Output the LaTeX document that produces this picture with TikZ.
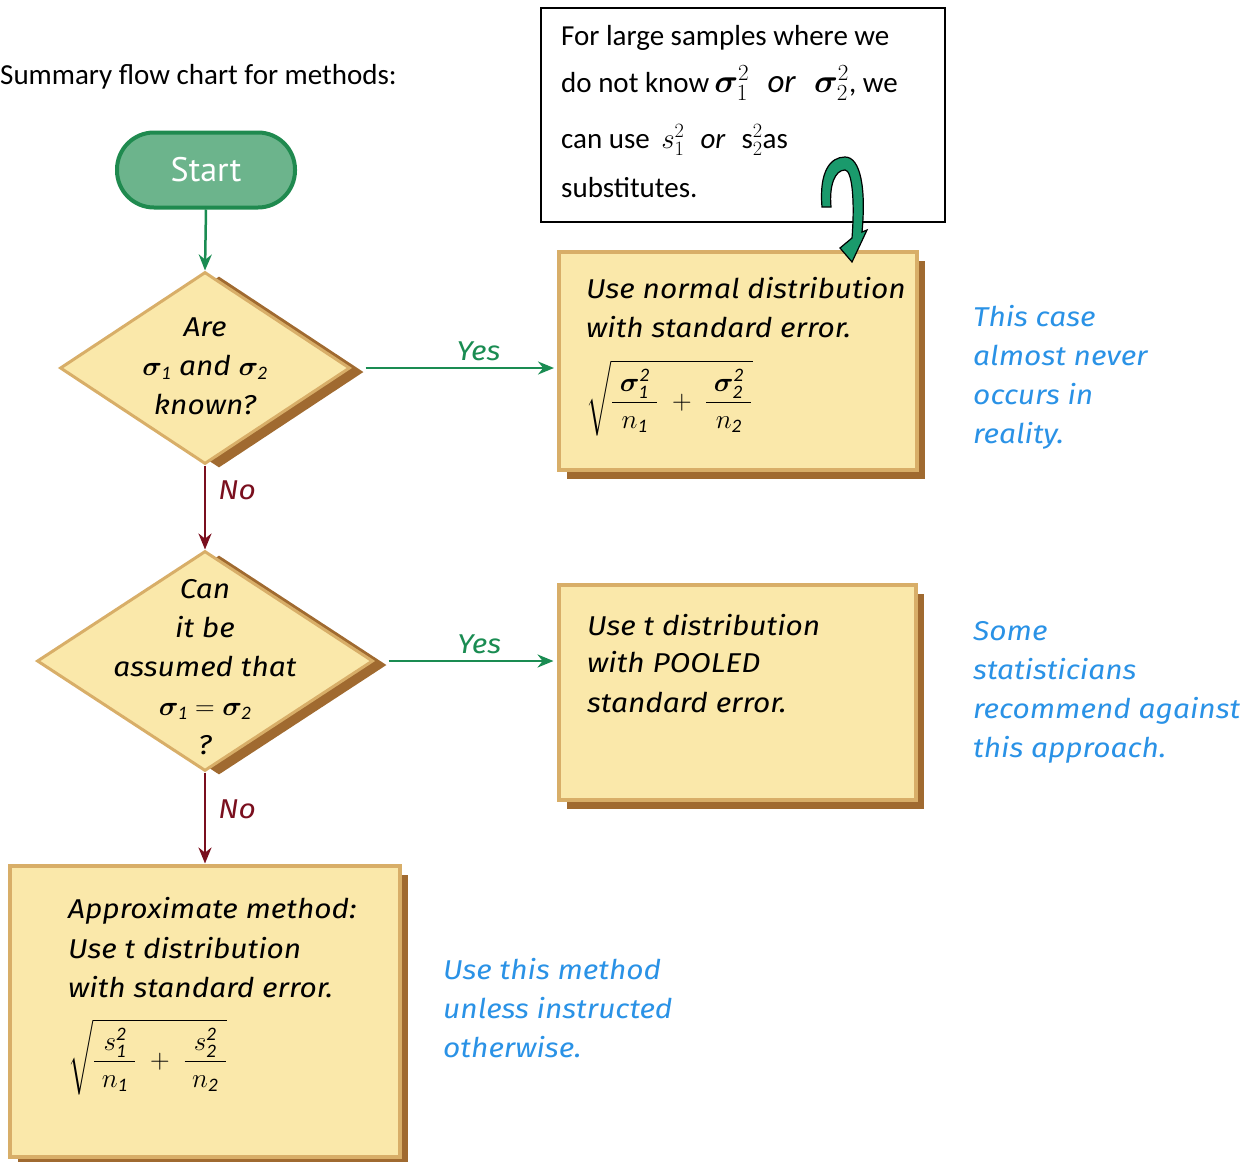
\RequirePackage{fix-cm}
\documentclass[tikz,border=0pt]{standalone}
\usepackage{amsmath,bm}
\usepackage{fontspec}
\setmainfont{Carlito}
\newfontfamily\hand{Fira Sans}[FakeStretch=1.1]
\newfontfamily\startfont{PT Sans}
\usetikzlibrary{shapes.geometric,shadows,arrows.meta}
\definecolor{boxfill}{HTML}{FAE8AA}
\definecolor{boxedge}{HTML}{D8AE68}
\definecolor{shadowbrown}{HTML}{A06A30}
\definecolor{flowgreen}{HTML}{1A8C52}
\definecolor{startfill}{HTML}{6CB48C}
\definecolor{startedge}{HTML}{1F8A4F}
\definecolor{flowred}{HTML}{7A0F1E}
\definecolor{noteblue}{HTML}{2A92E6}
\definecolor{curlgreen}{HTML}{1A9A6C}
\tikzset{
  handtxt/.style={font=\hand\itshape\fontsize{27.2}{39}\selectfont, inner sep=0pt},
  plaintxt/.style={font=\fontsize{29}{30}\selectfont, inner sep=0pt},
  bluetxt/.style={handtxt, text=noteblue, align=left},
  methodbox/.style={rectangle, fill=boxfill, draw=boxedge, line width=4pt,
    drop shadow={shadow xshift=8pt, shadow yshift=-9pt, fill=shadowbrown, opacity=1}},
  decision/.style={diamond, fill=boxfill, draw=boxedge, line width=3pt, inner sep=0pt,
    drop shadow={shadow xshift=14pt, shadow yshift=-4pt, fill=shadowbrown, opacity=1}},
  startnode/.style={rectangle, rounded corners=37pt, fill=startfill, draw=startedge,
    line width=4pt, minimum width=178pt, minimum height=75pt, text=white,
    font=\startfont\fontsize{34}{36}\selectfont},
  garrow/.style={draw=flowgreen, line width=2.5pt, -{Stealth[length=16pt,width=13pt]}},
  rarrow/.style={draw=flowred, line width=2.5pt, -{Stealth[length=16pt,width=13pt]}},
  ylab/.style={handtxt, text=flowgreen},
  nlab/.style={handtxt, text=flowred},
}
\begin{document}
\begin{tikzpicture}[x=1pt,y=-1pt]
\useasboundingbox (0,0) rectangle (1248,1162);

\node[plaintxt, anchor=base west] (title) at (0,84) {Summary flow chart for methods:};

% note box
\node[draw, line width=1.5pt, minimum width=404pt, minimum height=214pt, anchor=north west, inner sep=0pt] (note) at (540,7) {};
\node[plaintxt, anchor=base west] (notea) at (561,45) {For large samples where we};
\node[plaintxt, anchor=base west] (noteb) at (561,92) {do not know\,{\fontsize{33}{36}\selectfont$\bm{\sigma}_1^2\;\;\mathit{or}\;\;\bm{\sigma}_2^2$}, we};
\node[plaintxt, anchor=base west] (notec) at (561,148) {can use $\,s_1^2\;\;\mathit{or}\;\;\mathrm{s}_2^2$as};
\node[plaintxt, anchor=base west] (noted) at (561,197) {substitutes.};

% start
\node[startnode] (start) at (206,170) {Start};

% decisions
\node[decision, minimum width=290pt, minimum height=192pt] (d1) at (205,368) {};
\node[handtxt, align=center] (d1t) at (205,366) {Are\\ $\bm{\sigma}_{\mathit{1}}$ and $\bm{\sigma}_{\mathit{2}}$\\ known?};
\node[decision, minimum width=336pt, minimum height=220pt] (d2) at (205,661) {};
\node[handtxt, align=center] (d2t) at (205,667) {Can\\ it be\\ assumed that\\ $\bm{\sigma}_{\mathit{1}} = \bm{\sigma}_{\mathit{2}}$\\ ?};

% method boxes
\node[methodbox, minimum width=358pt, minimum height=218pt] (box1) at (738,361) {};
\node[handtxt, anchor=base west] (b1a) at (586,298) {Use normal distribution};
\node[handtxt, anchor=base west] (b1b) at (586,337) {with standard error.};
\node[handtxt, anchor=west] (b1c) at (586,398) {$\displaystyle\sqrt{\frac{\;\bm{\sigma}_{\mathit{1}}^{\mathit{2}}\;}{\;n_{\mathit{1}}\;}\;+\;\frac{\;\bm{\sigma}_{\mathit{2}}^{\mathit{2}}\;}{\;n_{\mathit{2}}\;}}$};

\node[methodbox, minimum width=357pt, minimum height=215pt] (box2) at (737,692) {};
\node[handtxt, anchor=base west] (b2a) at (587,635) {Use \textit{t} distribution};
\node[handtxt, anchor=base west] (b2b) at (587,672) {with POOLED};
\node[handtxt, anchor=base west] (b2c) at (587,712) {standard error.};

\node[methodbox, minimum width=390pt, minimum height=291pt] (box3) at (205,1011) {};
\node[handtxt, anchor=base west] (b3a) at (68,918) {Approximate method:};
\node[handtxt, anchor=base west] (b3b) at (68,958) {Use \textit{t} distribution};
\node[handtxt, anchor=base west] (b3c) at (68,997) {with standard error.};
\node[handtxt, anchor=west] (b3d) at (68,1057) {$\displaystyle\sqrt{\frac{\;s_{\mathit{1}}^{\mathit{2}}\;}{\;n_{\mathit{1}}\;}\;+\;\frac{\;s_{\mathit{2}}^{\mathit{2}}\;}{\;n_{\mathit{2}}\;}}$};

% side notes
\node[bluetxt, anchor=base west] (s1) at (973,443) {This case\\ almost never\\ occurs in\\ reality.};
\node[bluetxt, anchor=base west] (s2) at (973,757) {Some\\ statisticians\\ recommend against\\ this approach.};
\node[bluetxt, anchor=base west] (s3) at (443,1057) {Use this method\\ unless instructed\\ otherwise.};

% connectors
\draw[garrow] (start.south) -- (d1.north);
\draw[garrow] ([xshift=14pt]d1.east) -- ([xshift=-3pt]d1.east -| box1.west)
  node[ylab, pos=0.6, above=6pt] {Yes};
\draw[rarrow] (d1.south) -- (d2.north)
  node[nlab, pos=0.3, right=12pt] {No};
\draw[garrow] ([xshift=14pt]d2.east) -- ([xshift=-3pt]d2.east -| box2.west)
  node[ylab, pos=0.55, above=6pt] {Yes};
\draw[rarrow] (d2.south) -- (box3.north)
  node[nlab, pos=0.4, right=12pt] {No};

% curly arrow
\draw[fill=curlgreen, draw=black, line width=1.2pt]
  (822,207) .. controls (819,172) and (830,157) .. (845,157)
  .. controls (861,157) and (866,190) .. (862,232)
  -- (867,230) -- (852,262) -- (840,248) -- (852,238)
  .. controls (855,200) and (852,170) .. (845,170)
  .. controls (835,170) and (829,185) .. (831,207) -- cycle;
\end{tikzpicture}
\end{document}
